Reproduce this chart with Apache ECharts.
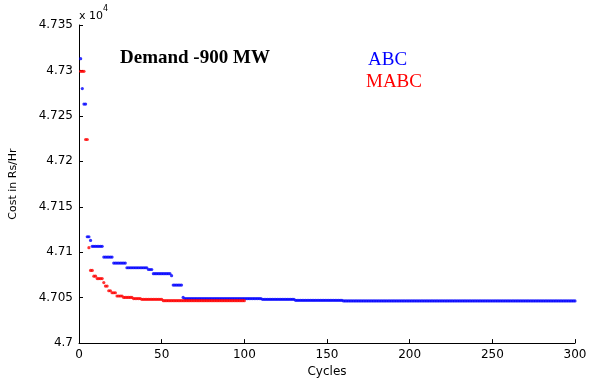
<!DOCTYPE html>
<html>
<head>
<meta charset="utf-8">
<script src="https://cdn.jsdelivr.net/npm/echarts@6/dist/echarts.min.js"></script>
<style>
  html, body { margin: 0; padding: 0; background: #fff; }
  #chart { width: 592px; height: 383px; }
</style>
</head>
<body>
<div id="chart"></div>
<script>
// cost values (x 10^4 Rs/Hr), read as [value, number of cycles at that value]
const abcSteps = [
    [4.7313, 1], [4.7280, 1], [4.7263, 2], [4.7117, 2], [4.7113, 1],
    [4.71065, 7], [4.70946, 6], [4.7088, 8], [4.70829, 13], [4.7081, 3],
    [4.70764, 11], [4.70742, 1], [4.70638, 6], [4.70503, 1], [4.7049, 47],
    [4.70482, 20], [4.70471, 29], [4.70464, 141]
];
const mabcSteps = [
    [4.7299, 3], [4.7224, 2], [4.7105, 1], [4.7080, 2], [4.70736, 2],
    [4.7071, 4], [4.70666, 1], [4.70627, 2], [4.70576, 2], [4.70554, 3],
    [4.70518, 4], [4.70503, 6], [4.7049, 5], [4.70482, 13], [4.70467, 50]
];
const yTicks = [4.7, 4.705, 4.71, 4.715, 4.72, 4.725, 4.73, 4.735];
const xTicks = [0, 50, 100, 150, 200, 250, 300];

// unroll the runs into [cycle, cost] points, first cycle is 1
function toPoints(steps) {
    const pts = [];
    let c = 1;
    steps.forEach(([v, n]) => {
        for (let i = 0; i < n; i++) { pts.push([c, v]); c++; }
    });
    return pts;
}

const chart = echarts.init(document.getElementById('chart'));

const axisTxt = { color: '#000', fontFamily: 'DejaVu Sans', fontSize: 12 };

const option = {
    animation: false,
    backgroundColor: '#fff',
    grid: { left: 78, right: 17, top: 25, bottom: 36 },
    xAxis: {
        type: 'value',
        min: xTicks[0], max: xTicks[xTicks.length - 1], interval: 50,
        name: 'Cycles', nameLocation: 'middle', nameGap: 20,
        nameTextStyle: axisTxt,
        axisLine: { lineStyle: { color: '#000', width: 1 } },
        axisTick: { inside: true, length: 4, lineStyle: { color: '#000' } },
        axisLabel: Object.assign({ margin: 6 }, axisTxt),
        splitLine: { show: false }
    },
    yAxis: {
        type: 'value',
        min: yTicks[0], max: yTicks[yTicks.length - 1], interval: 0.005,
        name: 'Cost in Rs/Hr', nameLocation: 'middle', nameGap: 60,
        nameTextStyle: Object.assign({}, axisTxt, { fontSize: 11 }),
        axisLine: { show: true, lineStyle: { color: '#000', width: 1 } },
        axisTick: { show: true, inside: true, length: 4, lineStyle: { color: '#000' } },
        axisLabel: Object.assign({
            margin: 6,
            formatter: v => String(parseFloat(v.toFixed(3)))
        }, axisTxt),
        splitLine: { show: false }
    },
    graphic: [
        {
            type: 'text', left: 79, top: 5,
            style: {
                text: '{a|x 10}{b|4}',
                rich: {
                    a: { fontFamily: 'DejaVu Sans', fontSize: 11, fill: '#000', padding: [6, 0, 0, 0] },
                    b: { fontFamily: 'DejaVu Sans', fontSize: 8, fill: '#000', verticalAlign: 'top' }
                }
            }
        },
        {
            type: 'text', left: 120, top: 49,
            style: { text: 'Demand -900 MW', fontFamily: 'Liberation Serif', fontSize: 19, fontWeight: 'bold', fill: '#000' }
        },
        {
            type: 'text', left: 368, top: 51,
            style: { text: 'ABC', fontFamily: 'Liberation Serif', fontSize: 19, fill: '#0000ff' }
        },
        {
            type: 'text', left: 366, top: 73,
            style: { text: 'MABC', fontFamily: 'Liberation Serif', fontSize: 19, fill: '#ff0000' }
        }
    ],
    series: [
        {
            name: 'ABC', type: 'scatter',
            symbol: 'circle', symbolSize: 3.2,
            itemStyle: { color: '#0000ff' },
            data: toPoints(abcSteps)
        },
        {
            name: 'MABC', type: 'scatter',
            symbol: 'circle', symbolSize: 3.2,
            itemStyle: { color: '#ff0000' },
            data: toPoints(mabcSteps)
        }
    ]
};

chart.setOption(option);
</script>
</body>
</html>
